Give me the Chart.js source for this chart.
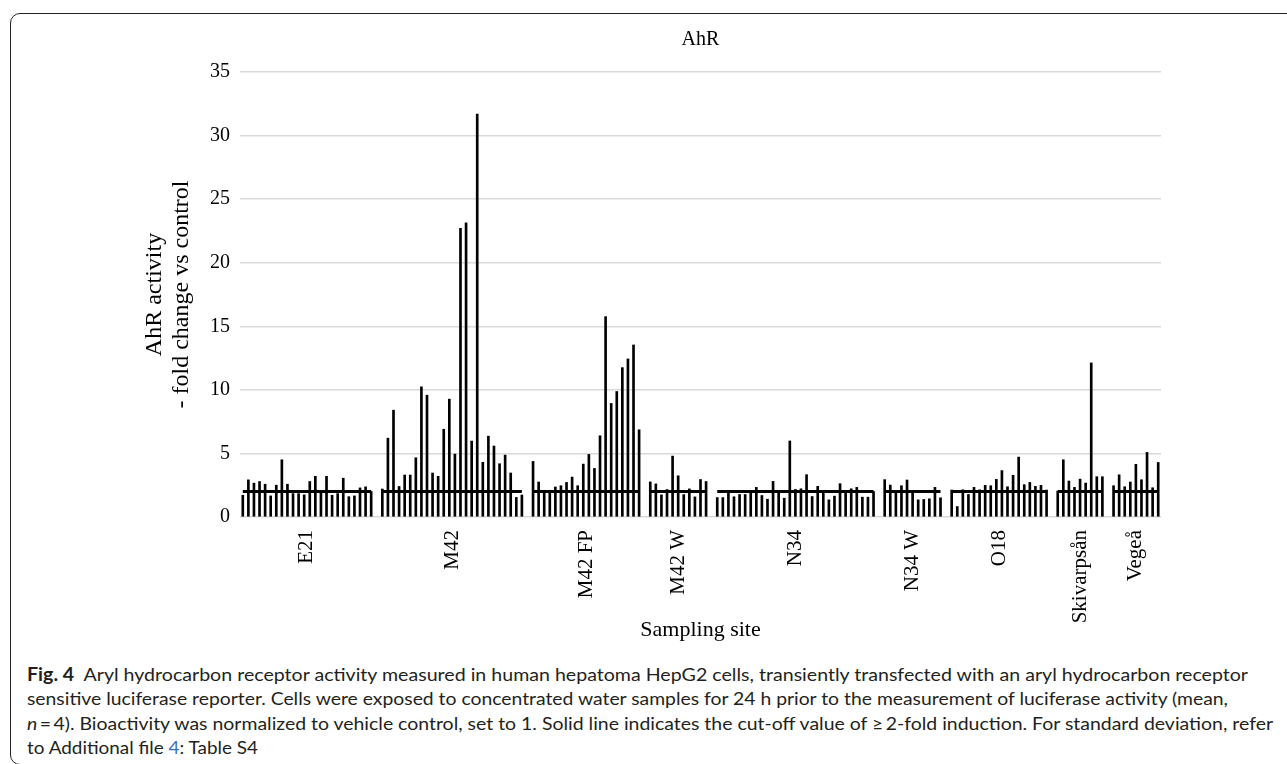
<!DOCTYPE html>
<html>
<head>
<meta charset="utf-8">
<title>AhR activity</title>
<script src="https://cdn.jsdelivr.net/npm/chart.js@4.4.1/dist/chart.umd.min.js"></script>
<style>
  html, body { margin: 0; padding: 0; background: #fff; }
  body { width: 1287px; height: 764px; position: relative; overflow: hidden; }
  .frame {
    position: absolute; left: 10px; top: 13px; width: 1400px; height: 752px;
    border: 1.5px solid #222; border-radius: 10px; box-sizing: border-box;
  }
  .chart-wrap { position: absolute; left: 0; top: 0; width: 1287px; height: 660px; }
  .caption {
    position: absolute; left: 27px; top: 662px;
    font-family: Lato, 'Open Sans', sans-serif; font-size: 18px; line-height: 24.3px; color: #231f20;
  }
  .caption .ln { width: max-content; white-space: nowrap; transform-origin: 0 50%; }
  .caption a { color: #3b6fc6; text-decoration: none; }
</style>
</head>
<body>
<div class="frame"></div>
<div class="chart-wrap"><canvas id="ahrChart"></canvas></div>
<div class="caption">
  <div class="ln" data-w="1221"><b>Fig. 4</b>&nbsp;&nbsp;Aryl hydrocarbon receptor activity measured in human hepatoma HepG2 cells, transiently transfected with an aryl hydrocarbon receptor</div>
  <div class="ln" data-w="1201">sensitive luciferase reporter. Cells were exposed to concentrated water samples for 24 h prior to the measurement of luciferase activity (mean,</div>
  <div class="ln" data-w="1246"><i>n</i>&#8201;=&#8201;4). Bioactivity was normalized to vehicle control, set to 1. Solid line indicates the cut-off value of &ge;&#8201;2-fold induction. For standard deviation, refer</div>
  <div class="ln" data-w="231">to Additional file <a href="#">4</a>: Table S4</div>
</div>

<script>
// Sites and their mean fold-change values
const siteNames = ['E21', 'M42', 'M42 FP', 'M42 W', 'N34', 'N34 W', 'O18', 'Skivarpsån', 'Vegeå'];

const e21 = [1.71, 2.92, 2.66, 2.79, 2.58, 1.66, 2.5, 4.5, 2.58, 1.84, 1.84, 1.74, 2.79, 3.2, 2.05, 3.2, 1.71, 1.84, 3.05, 1.6, 1.66, 2.29, 2.37, 2.0];
const m42 = [2.2, 6.2, 8.4, 2.4, 3.3, 3.3, 4.66, 10.24, 9.58, 3.46, 3.2, 6.9, 9.27, 4.95, 22.7, 23.14, 5.97, 31.7, 4.3, 6.36, 5.58, 4.19, 4.87, 3.46, 1.54, 1.73];
const m42fp = [4.37, 2.75, 2.04, 1.9, 2.36, 2.46, 2.72, 3.14, 2.46, 4.16, 4.92, 3.82, 6.39, 15.76, 8.93, 9.87, 11.75, 12.43, 13.53, 6.86];
const m42w = [2.76, 2.6, 1.74, 2.16, 4.79, 3.24, 1.76, 2.21, 1.58, 2.95, 2.79];
const n34 = [1.53, 1.53, 1.88, 1.59, 1.77, 1.77, 1.96, 2.33, 1.69, 1.4, 2.8, 1.88, 1.48, 5.98, 2.17, 2.22, 3.33, 1.61, 2.41, 1.88, 1.35, 1.64, 2.62, 1.88, 2.22, 2.33, 1.56, 1.56, 2.0];
const n34w = [2.94, 2.51, 2.1, 2.46, 2.91, 2.04, 1.35, 1.38, 1.43, 2.33, 1.51];
const o18 = [2.12, 0.82, 2.14, 1.77, 2.33, 2.14, 2.49, 2.46, 2.96, 3.65, 2.38, 3.28, 4.71, 2.54, 2.72, 2.41, 2.49, 2.12];
const skivarpsan = [2.04, 4.5, 2.83, 2.33, 2.98, 2.67, 12.12, 3.17, 3.17];
const vegea = [2.46, 3.32, 2.38, 2.75, 4.14, 2.93, 5.08, 2.3, 4.29];

const siteValues = [e21, m42, m42fp, m42w, n34, n34w, o18, skivarpsan, vegea];
const cutoff = 2;
const yTicks = [0, 5, 10, 15, 20, 25, 30, 35];

const serif = "'Liberation Serif', 'Times New Roman', serif";

// Flatten sites into one category axis, with one empty slot between sites
const labels = [];
const barValues = [];
const cutoffLine = [];
const siteCenters = [];

siteValues.forEach((vals, s) => {
    if (s > 0) {
        labels.push('');
        barValues.push(null);
        cutoffLine.push(null);
    }
    const start = labels.length;
    vals.forEach((v, i) => {
        labels.push(siteNames[s] + ' ' + (i + 1));
        barValues.push(v);
        cutoffLine.push(cutoff);
    });
    siteCenters.push(start + (vals.length - 1) / 2);
});

Chart.defaults.font.family = serif;
Chart.defaults.color = '#000';

new Chart(document.getElementById('ahrChart'), {
    data: {
        labels: labels,
        datasets: [
            {
                type: 'line',
                label: 'Cut-off',
                data: cutoffLine,
                borderColor: '#000',
                borderWidth: 3,
                pointRadius: 0,
                spanGaps: false,
                tension: 0
            },
            {
                type: 'bar',
                label: 'AhR',
                data: barValues,
                backgroundColor: '#000',
                barThickness: 2
            }
        ]
    },
    options: {
        responsive: true,
        maintainAspectRatio: false,
        animation: false,
        layout: { padding: { left: 0, right: 126, top: 0, bottom: 0 } },
        plugins: {
            legend: { display: false },
            tooltip: { enabled: false },
            title: {
                display: true,
                text: 'AhR',
                fullSize: false,
                color: '#000',
                font: { family: serif, size: 20, weight: 'normal' },
                padding: { top: 28, bottom: 20 }
            }
        },
        scales: {
            x: {
                type: 'category',
                display: false,
                offset: true
            },
            xl: {
                type: 'linear',
                position: 'bottom',
                min: -0.5,
                max: labels.length - 0.5,
                grid: { display: false, drawTicks: false },
                border: { display: false },
                afterBuildTicks: (scale) => {
                    scale.ticks = siteCenters.map(v => ({ value: v }));
                },
                afterFit: (scale) => {
                    scale.height = 143;
                },
                ticks: {
                    autoSkip: false,
                    minRotation: 90,
                    maxRotation: 90,
                    padding: 13,
                    font: { family: serif, size: 21 },
                    callback: (value, index) => siteNames[index]
                },
                title: {
                    display: true,
                    text: 'Sampling site',
                    font: { family: serif, size: 22 },
                    padding: { top: 0, bottom: 17 }
                }
            },
            y: {
                min: 0,
                max: 35,
                afterBuildTicks: (scale) => {
                    scale.ticks = yTicks.map(v => ({ value: v }));
                },
                afterFit: (scale) => {
                    scale.width = 240;
                },
                grid: { color: '#d9d9d9', lineWidth: 1.5, drawTicks: false },
                border: { display: false },
                ticks: {
                    padding: 10,
                    font: { family: serif, size: 20 }
                },
                title: {
                    display: true,
                    text: ['AhR activity', '- fold change vs control'],
                    font: { family: serif, size: 24, lineHeight: 1.1 },
                    padding: { top: 142, bottom: 0 }
                }
            }
        }
    }
});

// Fit each caption line to the width it takes in the printed figure
document.querySelectorAll('.caption .ln').forEach(el => {
    const target = parseFloat(el.dataset.w);
    const natural = el.getBoundingClientRect().width;
    if (natural > 0) el.style.transform = `scaleX(${target / natural})`;
});
</script>
</body>
</html>
